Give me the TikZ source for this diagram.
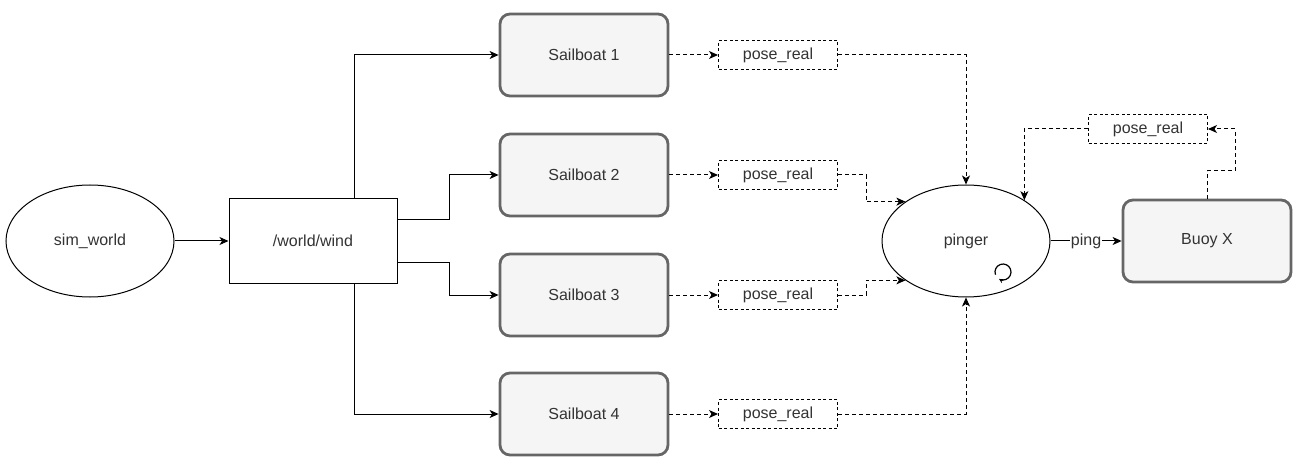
\documentclass[tikz,border=0pt]{standalone}
\usepackage{fontspec}
\setmainfont{Liberation Sans}
\usepackage{xcolor}
\usetikzlibrary{arrows.meta,shapes.geometric}
\definecolor{boatfill}{HTML}{F5F5F5}
\definecolor{boatline}{HTML}{666666}
\definecolor{txt}{HTML}{333333}

\begin{document}
\begin{tikzpicture}[x=1pt,y=-1pt,
        font=\fontsize{16}{19}\selectfont, text=txt, line width=1pt,
        >={Stealth[length=9pt,width=8pt,inset=2.5pt]},
        proc/.style={ellipse, draw, line width=1pt, minimum width=168pt, minimum height=112pt, inner sep=0pt},
        topic/.style={rectangle, draw, line width=1pt, minimum width=168pt, minimum height=84pt},
        boat/.style={rectangle, rounded corners=10pt, draw=boatline, fill=boatfill, line width=2.8pt, minimum width=168pt, minimum height=82pt},
        msg/.style={rectangle, draw, line width=1pt, dash pattern=on 3pt off 2.5pt, minimum width=119pt, minimum height=29pt, inner sep=0pt},
        flow/.style={->, line width=1pt, dash pattern=on 4pt off 3pt}]
        \useasboundingbox (0,0) rectangle (1293,457);

        \node[proc] (world) at (90,241) {sim\_world};
        \node[topic] (wind) at (313,241) {/world/wind};
        \node[proc] (pinger) at (966,241) {pinger};
        \node[boat] (buoy) at (1207,241) {Buoy X};

        \node[boat] (s1) at (584,55) {Sailboat 1};
        \node[boat] (s2) at (584,175) {Sailboat 2};
        \node[boat] (s3) at (584,295) {Sailboat 3};
        \node[boat] (s4) at (584,414) {Sailboat 4};

        \node[msg] (p1) at (778,55) {pose\_real};
        \node[msg] (p2) at (778,175) {pose\_real};
        \node[msg] (p3) at (778,295) {pose\_real};
        \node[msg] (p4) at (778,414) {pose\_real};
        \node[msg] (pb) at (1148,129) {pose\_real};

        \draw[->] (world) -- (wind);
        \draw[->] ([xshift=41pt]wind.north) |- (s1);
        \draw[->] ([yshift=21pt]wind.east) -- ++(52,0) |- (s2);
        \draw[->] ([yshift=-21pt]wind.east) -- ++(52,0) |- (s3);
        \draw[->] ([xshift=41pt]wind.south) |- (s4);

        \foreach \i in {1,2,3,4} {
            \draw[flow] (s\i) -- (p\i);
        }

        \draw[flow] (p1.east) -| (pinger.north);
        \draw[flow] (p2.east) -- ++(28,0) |- (pinger.147);
        \draw[flow] (p3.east) -- ++(28,0) |- (pinger.213);
        \draw[flow] (p4.east) -| (pinger.south);

        \draw[->] (pinger) -- node[fill=white, inner sep=0.5pt] {ping} (buoy);
        \draw[flow] (buoy.north) -- ++(0,-28) -- ++(28,0) |- (pb.east);
        \draw[flow] (pb.west) -| (pinger.35);

        % loop icon
        \coordinate (loopicon) at (1003,272);
        \draw[line width=1.2pt, -{Stealth[length=4.5pt,width=4.5pt]}] (loopicon) ++(200:8pt) arc[start angle=200, end angle=-120, radius=8pt];
    \end{tikzpicture}
\end{document}
